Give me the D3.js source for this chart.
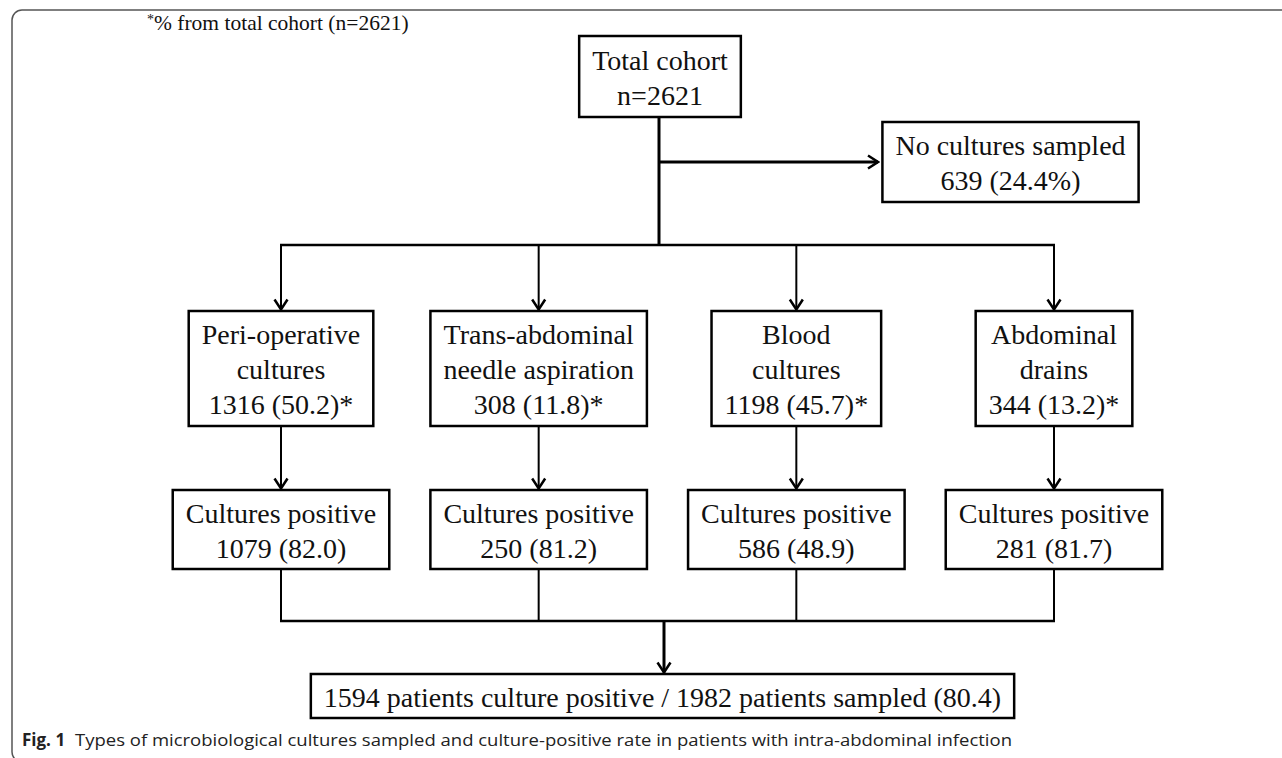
<!DOCTYPE html>
<html>
<head>
<meta charset="utf-8">
<script src="https://cdn.jsdelivr.net/npm/d3@7"></script>
<style>
  body { margin: 0; background: #fff; }
  svg { display: block; }
  .box text { font-family: "Liberation Serif", "Times New Roman", serif; font-size: 28px; fill: #111; }
</style>
</head>
<body>
<script>
// flowchart values
const cohortTotal = 2621;
const noCulturesN = 639;
const noCulturesPct = 24.4;

const cultureTypes = [['Peri-operative', 'cultures'], ['Trans-abdominal', 'needle aspiration'], ['Blood', 'cultures'], ['Abdominal', 'drains']];
const sampledN = [1316, 308, 1198, 344];
const sampledPct = [50.2, 11.8, 45.7, 13.2];
const positiveN = [1079, 250, 586, 281];
const positivePct = [82.0, 81.2, 48.9, 81.7];

const overallPositive = 1594;
const overallSampled = 1982;
const overallPct = 80.4;

const captionLabel = 'Fig. 1';
const captionText = 'Types of microbiological cultures sampled and culture-positive rate in patients with intra-abdominal infection';

const fmt = d3.format('.1f');

const svg = d3.select('body').append('svg')
  .attr('width', 1282)
  .attr('height', 758);

// arrow head, open chevron
svg.append('defs').append('marker')
  .attr('id', 'arrow')
  .attr('markerUnits', 'userSpaceOnUse')
  .attr('viewBox', '-12 -8 14 16')
  .attr('markerWidth', 14)
  .attr('markerHeight', 16)
  .attr('refX', 0)
  .attr('refY', 0)
  .attr('orient', 'auto')
  .append('path')
  .attr('d', 'M-10,-6.5L0,0L-10,6.5')
  .attr('fill', 'none')
  .attr('stroke', '#000')
  .attr('stroke-width', 2.5);

// outer frame of the figure panel
svg.append('rect')
  .attr('x', 12).attr('y', 10)
  .attr('width', 1320).attr('height', 752)
  .attr('rx', 10)
  .attr('fill', 'none')
  .attr('stroke', '#555')
  .attr('stroke-width', 1.5);

const header = svg.append('text')
  .attr('x', 147).attr('y', 30)
  .attr('font-family', '"Liberation Serif", serif')
  .attr('font-size', 21.5)
  .attr('fill', '#111');
header.append('tspan').attr('font-size', 14).attr('dy', -6).text('*');
header.append('tspan').attr('dy', 6).text(`% from total cohort (n=${cohortTotal})`);

// column centres for the four culture types
const x = d3.scalePoint().domain(d3.range(cultureTypes.length)).range([281, 1054]);

const rows = {
  total: [36, 117],
  none: [122, 202],
  type: [311, 426],
  pos: [490, 569],
  all: [674, 718]
};
const trunkX = 659;
const branchY = 245;
const joinY = 621;
const finalX = 664;
const lineH = 35;
const pad = 26;

const lines = svg.append('g').attr('stroke', '#000').attr('fill', 'none');
const boxes = svg.append('g');

function link(x1, y1, x2, y2, w, arrow) {
  const l = lines.append('line')
    .attr('x1', x1).attr('y1', y1)
    .attr('x2', x2).attr('y2', y2)
    .attr('stroke-width', w);
  if (arrow) l.attr('marker-end', 'url(#arrow)');
}

function box(cx, row, textLines) {
  const [y0, y1] = row;
  const cy = (y0 + y1) / 2;
  const g = boxes.append('g').attr('class', 'box');
  const rect = g.append('rect');
  const t = g.selectAll('text').data(textLines).join('text')
    .attr('x', cx)
    .attr('y', (d, i) => cy + (i - (textLines.length - 1) / 2) * lineH + 10.5)
    .attr('text-anchor', 'middle')
    .text(d => d);
  const w = d3.max(t.nodes(), n => n.getComputedTextLength()) + pad;
  rect.attr('x', cx - w / 2).attr('y', y0)
    .attr('width', w).attr('height', y1 - y0)
    .attr('fill', '#fff')
    .attr('stroke', '#000')
    .attr('stroke-width', 2.5);
}

// connectors
link(trunkX, rows.total[1], trunkX, branchY, 3);
link(trunkX, (rows.none[0] + rows.none[1]) / 2, 878, (rows.none[0] + rows.none[1]) / 2, 3, true);
link(x(0) - 1, branchY, x(cultureTypes.length - 1) + 1, branchY, 2.5);
link(x(0) - 1, joinY, x(cultureTypes.length - 1) + 1, joinY, 2.5);
cultureTypes.forEach((d, i) => {
  link(x(i), branchY, x(i), rows.type[0] - 1.5, 2, true);
  link(x(i), rows.type[1], x(i), rows.pos[0] - 1.5, 2, true);
  link(x(i), rows.pos[1], x(i), joinY, 2);
});
link(finalX, joinY, finalX, rows.all[0] - 1.5, 3, true);

// boxes
box(trunkX + 1, rows.total, ['Total cohort', `n=${cohortTotal}`]);
box(1010.5, rows.none, ['No cultures sampled', `${noCulturesN} (${fmt(noCulturesPct)}%)`]);
cultureTypes.forEach((d, i) => {
  box(x(i), rows.type, [...d, `${sampledN[i]} (${fmt(sampledPct[i])})*`]);
  box(x(i), rows.pos, ['Cultures positive', `${positiveN[i]} (${fmt(positivePct[i])})`]);
});
box(662.5, rows.all, [`${overallPositive} patients culture positive / ${overallSampled} patients sampled (${fmt(overallPct)})`]);

// caption
const capFont = '"Open Sans", "Noto Sans", sans-serif';
svg.append('text')
  .attr('x', 22).attr('y', 746)
  .attr('font-family', capFont)
  .attr('font-size', 17)
  .attr('font-weight', 'bold')
  .attr('fill', '#222')
  .text(captionLabel);
svg.append('text')
  .attr('x', 75).attr('y', 746)
  .attr('font-family', capFont)
  .attr('font-size', 17)
  .attr('textLength', 937)
  .attr('lengthAdjust', 'spacingAndGlyphs')
  .attr('fill', '#222')
  .text(captionText);
</script>
</body>
</html>
